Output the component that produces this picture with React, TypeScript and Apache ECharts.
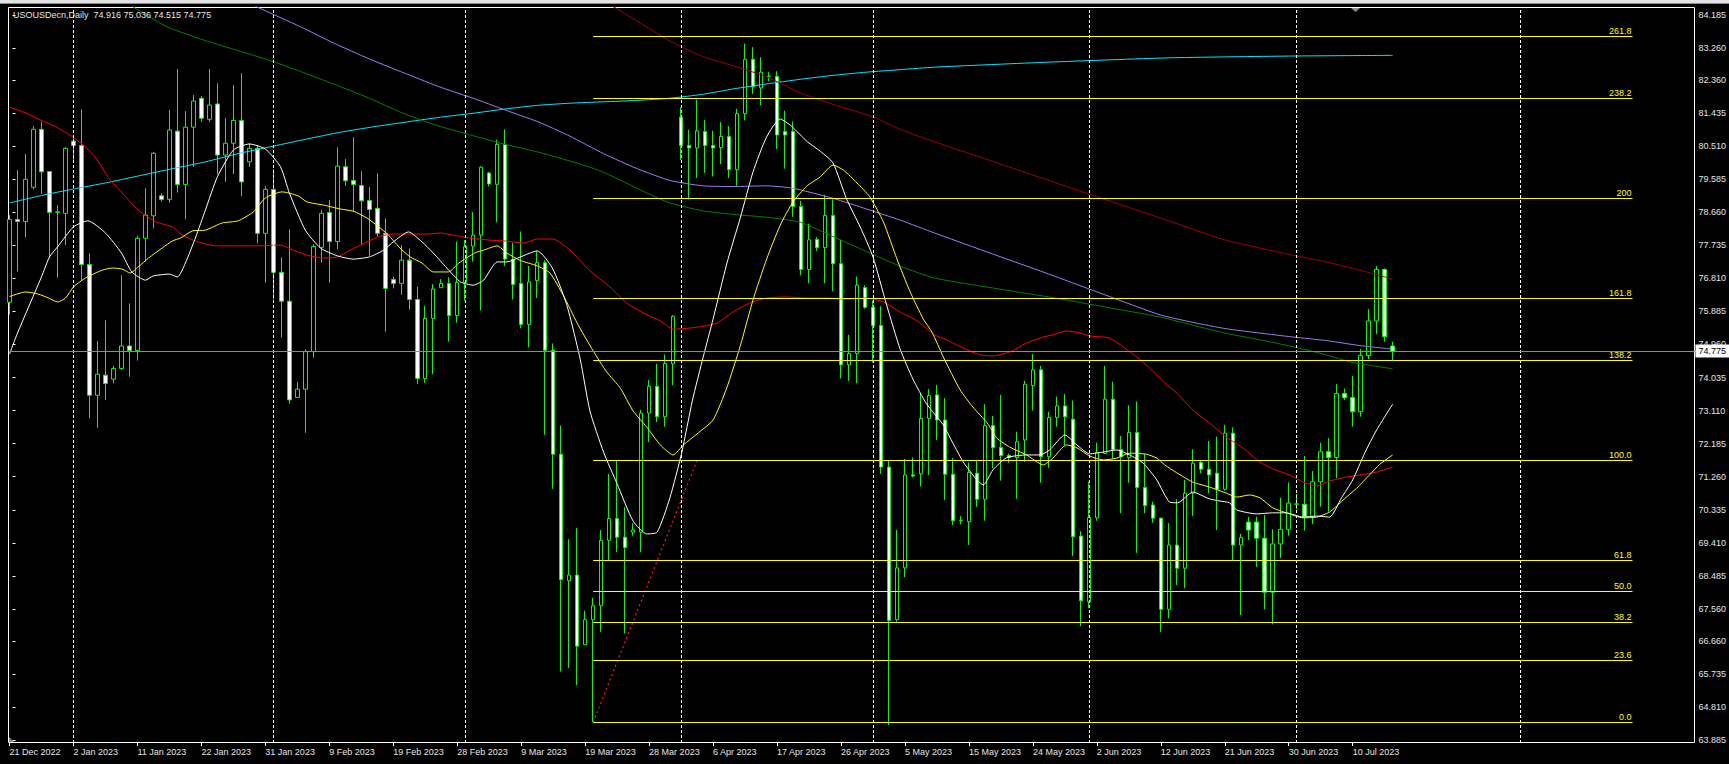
import React, { useEffect, useRef } from 'react';
import * as echarts from 'echarts';

// ---------------- DATA ----------------
const titleText = 'USOUSDecn,Daily  74.916 75.036 74.515 74.775';
const lastPrice = 74.775;

const xTickLabels = ['21 Dec 2022', '2 Jan 2023', '11 Jan 2023', '22 Jan 2023', '31 Jan 2023', '9 Feb 2023', '19 Feb 2023', '28 Feb 2023', '9 Mar 2023', '19 Mar 2023', '28 Mar 2023', '6 Apr 2023', '17 Apr 2023', '26 Apr 2023', '5 May 2023', '15 May 2023', '24 May 2023', '2 Jun 2023', '12 Jun 2023', '21 Jun 2023', '30 Jun 2023', '10 Jul 2023'];
const barsPerTick = 8;
const totalSlots = 212;

const yTickValues = [84.185, 83.26, 82.36, 81.435, 80.51, 79.585, 78.66, 77.735, 76.81, 75.885, 74.96, 74.035, 73.11, 72.185, 71.26, 70.335, 69.41, 68.485, 67.56, 66.66, 65.735, 64.81, 63.885];
const yMin = 63.81;
const yMax = 84.403;

const opens = [76.14, 78.46, 78.40, 79.36, 80.98, 79.80, 78.66, 78.63, 80.65, 80.53, 77.20, 73.54, 74.10, 73.99, 74.29, 74.92, 74.79, 77.93, 78.56, 79.12, 79.02, 80.93, 79.44, 81.04, 81.85, 81.26, 81.69, 80.26, 80.59, 81.23, 80.07, 80.45, 78.07, 79.30, 76.98, 76.17, 73.48, 73.71, 74.76, 77.68, 78.65, 77.84, 79.93, 79.55, 79.41, 78.99, 78.77, 78.07, 76.78, 76.67, 77.32, 76.22, 74.01, 75.69, 76.55, 76.67, 75.77, 76.70, 77.71, 78.02, 79.76, 79.44, 80.56, 77.35, 76.67, 75.52, 76.75, 77.25, 74.80, 71.89, 68.35, 68.51, 66.56, 67.26, 67.65, 69.48, 70.09, 69.57, 69.71, 69.71, 73.04, 73.79, 72.94, 74.42, 81.32, 80.53, 80.46, 80.92, 80.53, 80.47, 80.78, 79.85, 81.42, 82.94, 82.14, 82.46, 82.46, 80.92, 80.92, 78.82, 77.06, 77.90, 77.67, 78.57, 77.22, 74.39, 74.71, 76.55, 76.00, 75.49, 71.53, 67.26, 68.71, 71.31, 71.34, 72.89, 73.55, 72.85, 71.33, 70.03, 70.00, 71.36, 70.63, 72.69, 72.08, 71.86, 71.80, 72.29, 73.81, 74.25, 71.82, 72.92, 73.24, 72.87, 69.60, 67.76, 70.11, 71.91, 73.43, 72.02, 71.80, 72.50, 70.96, 70.47, 70.10, 67.55, 69.35, 68.70, 70.80, 71.66, 71.47, 71.36, 70.91, 72.48, 69.35, 69.99, 69.99, 69.54, 68.03, 69.38, 69.79, 70.49, 70.49, 70.14, 71.12, 71.96, 71.80, 73.59, 73.48, 73.08, 74.65, 75.62, 77.06, 74.916];
const highs = [78.58, 79.84, 80.29, 81.07, 81.19, 79.81, 78.86, 80.48, 80.73, 81.54, 77.51, 75.06, 75.64, 74.36, 76.90, 76.11, 78.00, 79.33, 80.35, 79.19, 81.52, 82.67, 81.49, 81.94, 81.91, 82.67, 82.27, 81.29, 82.22, 82.55, 80.59, 80.54, 79.39, 79.86, 77.40, 78.18, 73.91, 74.83, 77.77, 78.72, 79.00, 80.48, 80.15, 80.76, 79.81, 79.37, 79.75, 78.49, 76.86, 77.74, 77.65, 76.58, 76.04, 76.65, 76.79, 76.84, 77.84, 77.88, 78.67, 79.95, 79.79, 80.69, 80.98, 77.80, 78.12, 77.16, 77.58, 77.32, 74.99, 72.69, 69.51, 69.83, 67.51, 67.87, 69.77, 71.34, 71.72, 70.41, 69.96, 73.13, 73.97, 74.42, 74.68, 75.78, 81.59, 80.97, 81.81, 81.24, 80.94, 81.18, 81.07, 81.55, 83.38, 83.28, 83.00, 82.58, 82.61, 81.50, 81.20, 78.98, 78.34, 77.96, 79.15, 79.02, 77.89, 75.23, 76.86, 76.62, 76.19, 76.03, 71.72, 69.77, 71.76, 71.80, 73.58, 73.71, 73.83, 73.46, 71.78, 70.16, 71.66, 71.73, 73.29, 72.96, 73.55, 71.91, 72.52, 73.94, 74.69, 74.36, 73.08, 73.50, 73.58, 73.39, 69.74, 71.12, 72.21, 74.36, 73.92, 72.40, 73.26, 73.36, 71.90, 70.56, 70.12, 69.96, 70.63, 71.17, 72.03, 71.73, 72.26, 72.38, 72.71, 72.64, 69.66, 70.14, 70.14, 70.19, 69.79, 70.67, 71.10, 70.78, 71.84, 71.42, 72.21, 72.34, 73.85, 73.73, 74.08, 74.83, 75.95, 77.16, 77.09, 75.036];
const lows = [75.79, 77.00, 77.96, 79.30, 79.17, 77.37, 76.83, 77.74, 80.12, 76.77, 72.90, 72.63, 73.41, 73.87, 74.25, 74.06, 74.51, 77.28, 78.21, 78.96, 78.93, 79.21, 78.46, 79.93, 81.19, 81.19, 79.72, 79.51, 79.73, 79.11, 79.93, 77.79, 76.69, 76.22, 75.15, 73.31, 73.48, 72.49, 74.59, 77.25, 76.69, 77.62, 79.40, 78.68, 77.74, 77.44, 77.99, 75.32, 76.53, 76.35, 75.93, 73.85, 73.89, 74.13, 76.55, 75.04, 75.57, 76.19, 77.28, 75.91, 79.38, 78.38, 77.16, 76.22, 75.42, 74.88, 76.26, 72.43, 70.92, 65.81, 65.91, 65.43, 66.55, 64.39, 66.92, 68.93, 69.15, 66.88, 69.61, 69.15, 72.23, 72.79, 72.66, 73.82, 80.12, 79.02, 79.62, 79.76, 79.66, 80.01, 79.62, 79.40, 81.23, 81.97, 81.65, 82.33, 80.43, 79.88, 78.53, 76.90, 76.67, 77.58, 76.67, 76.45, 74.01, 73.94, 73.88, 75.96, 74.46, 71.34, 64.31, 67.20, 68.45, 71.24, 70.99, 71.31, 72.29, 70.61, 69.91, 69.93, 69.35, 70.42, 70.03, 71.50, 71.15, 71.65, 70.64, 71.68, 73.11, 71.09, 71.51, 72.66, 72.15, 69.04, 67.08, 67.58, 70.03, 71.91, 71.77, 70.24, 71.09, 69.13, 70.24, 69.97, 66.92, 67.30, 68.23, 68.14, 70.16, 71.36, 70.80, 69.77, 70.87, 68.93, 67.39, 69.49, 68.74, 67.55, 67.13, 68.99, 69.61, 70.35, 69.75, 69.94, 70.42, 70.28, 71.22, 73.41, 72.66, 72.94, 74.55, 75.25, 75.04, 74.515];
const closes = [78.46, 78.40, 79.58, 80.98, 79.79, 78.66, 78.67, 80.45, 80.53, 77.20, 73.54, 74.13, 73.87, 74.29, 74.92, 74.79, 77.93, 78.58, 80.31, 79.02, 80.96, 79.44, 81.04, 81.77, 81.29, 81.66, 80.26, 80.59, 81.23, 79.51, 80.45, 78.07, 79.30, 76.98, 76.17, 73.41, 73.71, 74.76, 77.70, 78.63, 77.84, 79.95, 79.54, 79.44, 78.98, 78.74, 78.07, 76.53, 76.67, 77.32, 76.22, 74.01, 75.69, 76.51, 76.67, 75.77, 76.70, 77.70, 78.02, 79.92, 79.45, 80.56, 77.35, 76.64, 75.52, 76.71, 77.25, 74.80, 71.89, 68.38, 68.51, 66.52, 67.26, 67.65, 69.48, 70.09, 69.57, 69.28, 69.77, 73.04, 73.79, 72.94, 74.43, 75.75, 80.53, 80.46, 80.94, 80.53, 80.46, 80.78, 79.85, 81.42, 82.94, 82.17, 82.58, 82.47, 80.82, 80.82, 78.82, 77.06, 77.89, 77.67, 78.57, 77.22, 74.39, 74.71, 76.62, 76.00, 75.49, 71.53, 67.24, 68.71, 71.31, 71.28, 72.89, 73.53, 72.85, 71.33, 70.03, 70.04, 71.38, 70.63, 72.69, 72.08, 71.85, 71.80, 72.24, 73.85, 74.25, 71.82, 72.92, 73.24, 72.94, 69.58, 67.79, 70.12, 71.94, 73.43, 72.02, 71.82, 72.50, 70.96, 70.45, 70.10, 67.55, 69.35, 68.70, 70.80, 71.64, 71.47, 71.31, 70.91, 72.48, 69.35, 69.56, 69.77, 69.54, 68.03, 69.38, 69.79, 70.52, 70.50, 70.14, 71.12, 71.96, 71.80, 73.59, 73.47, 73.08, 74.65, 75.62, 77.06, 75.18, 74.775];

// moving averages as [bar index, price]
const maWhite = [[0, 74.69], [1, 75.28], [4, 76.85], [5, 77.41], [6, 77.69], [8, 78.25], [9.8, 78.42], [12, 78.08], [14, 77.52], [15.3, 76.99], [17, 76.76], [18, 76.88], [20, 76.93], [21, 76.85], [22, 77.24], [23.3, 77.97], [24.5, 78.72], [26, 79.65], [28, 80.40], [30, 80.57], [32, 80.43], [33.9, 79.93], [35, 79.20], [37, 78.16], [38.9, 77.66], [41, 77.44], [43, 77.35], [45, 77.41], [46.8, 77.60], [48, 77.83], [49.9, 78.11], [51.6, 77.83], [53, 77.52], [54.7, 77.10], [56.4, 76.71], [58, 76.62], [59.3, 76.76], [61, 77.27], [62.2, 77.27], [63.9, 77.41], [66, 77.58], [67.9, 77.10], [69.7, 76.07], [71.4, 74.53], [72.6, 73.10], [74.3, 71.95], [76, 71.06], [78, 70.02], [79.7, 69.66], [81, 69.71], [82.6, 70.67], [84.1, 71.95], [85.4, 73.38], [86.8, 74.64], [88, 75.67], [89.7, 77.21], [91.4, 78.50], [93, 79.79], [94.7, 80.77], [96.4, 81.27], [97.8, 81.07], [99.8, 80.63], [101.4, 80.37], [103, 80.04], [104.7, 79.03], [106.4, 78.25], [108, 77.41], [109.7, 76.07], [111.4, 74.83], [113, 73.99], [114.7, 73.30], [116.8, 72.71], [117.6, 72.37], [119.3, 71.67], [121, 71.17], [121.8, 71.03], [123, 71.45], [124.7, 71.79], [127.2, 71.87], [128.9, 71.87], [130.1, 72.01], [132, 72.43], [133.5, 72.15], [135.1, 71.90], [136.8, 71.95], [138.5, 72.01], [140.1, 71.87], [141.8, 71.64], [143.5, 71.17], [145.1, 70.55], [146.1, 70.53], [148, 70.83], [150.1, 70.64], [151.4, 70.58], [152.6, 70.53], [153.5, 70.33], [156, 70.22], [158, 70.25], [159.7, 70.25], [161.8, 70.13], [163.5, 70.16], [165.1, 70.13], [166.6, 70.67], [168, 71.17], [169.5, 71.92], [171, 72.57], [173, 73.29]];
const maYellow = [[0, 76.30], [2, 76.43], [3.6, 76.37], [4.9, 76.26], [6, 76.15], [7, 76.26], [8, 76.57], [9.5, 76.82], [11.6, 77.04], [12.9, 77.10], [14.1, 77.07], [15.1, 76.96], [16.1, 77.13], [17.4, 77.38], [19.1, 77.66], [20.4, 77.86], [21.4, 77.94], [22.9, 78.14], [24.5, 78.16], [26.6, 78.36], [28.6, 78.42], [30.5, 78.67], [32, 79.06], [34.1, 79.23], [36.1, 79.12], [37.2, 78.95], [39.3, 78.86], [41.4, 78.75], [43, 78.69], [44.7, 78.50], [46.2, 78.25], [47.4, 78.02], [48.7, 77.69], [50.1, 77.41], [51.6, 77.24], [53, 76.99], [54.9, 76.99], [56.2, 77.24], [58.2, 77.52], [59.3, 77.60], [61, 77.72], [62.2, 77.52], [63.9, 77.31], [66, 77.16], [67.6, 76.96], [69.3, 76.32], [71, 75.56], [73, 74.78], [74.7, 74.19], [76.4, 73.74], [78, 73.10], [79.7, 72.65], [81.4, 72.15], [83, 71.87], [84.3, 72.15], [86, 72.46], [88, 72.85], [89.7, 73.74], [91.4, 74.92], [93, 76.21], [94.7, 77.35], [96.4, 78.30], [98, 78.95], [99.7, 79.39], [101.4, 79.65], [103, 79.98], [104.3, 79.84], [106, 79.48], [107.6, 79.09], [109.3, 78.39], [111, 77.35], [112.6, 76.46], [114.3, 75.67], [115.4, 75.30], [116.8, 74.61], [118.9, 73.69], [120.5, 73.21], [122.3, 72.76], [123.5, 72.34], [125.1, 72.09], [127.2, 71.87], [129.3, 71.59], [130.5, 71.78], [132.2, 72.15], [133.5, 72.07], [135.1, 71.84], [136.8, 71.73], [138.5, 71.78], [140.1, 71.92], [142.2, 71.89], [143.5, 71.78], [144.5, 71.59], [146, 71.37], [148, 71.11], [150.1, 70.97], [152.2, 70.80], [153.5, 70.69], [155.1, 70.75], [156.4, 70.67], [158, 70.39], [159.7, 70.25], [161.8, 70.11], [163.5, 70.13], [165.1, 70.27], [166.8, 70.61], [168.5, 70.94], [170.1, 71.31], [171.4, 71.61], [173, 71.87]];
const maRed = [[0, 81.60], [2, 81.44], [3.6, 81.27], [5.8, 81.05], [7.9, 80.77], [9.5, 80.49], [10.8, 80.18], [12.4, 79.62], [14.1, 79.20], [16.1, 78.72], [18.3, 78.39], [20.4, 78.25], [21.6, 78.02], [23.6, 77.83], [25.8, 77.72], [28.6, 77.72], [31, 77.72], [33.9, 77.74], [35.5, 77.60], [37.2, 77.46], [39.3, 77.38], [41, 77.41], [42.6, 77.60], [44.7, 77.83], [46.4, 77.99], [48, 78.05], [50.5, 78.05], [52.2, 78.05], [53.9, 78.08], [55.5, 78.02], [57.6, 77.94], [60.1, 77.88], [61.8, 77.86], [64.3, 77.80], [66, 77.91], [68, 77.91], [70.1, 77.60], [72.6, 77.02], [75.1, 76.57], [77.2, 76.12], [79.3, 75.84], [81.4, 75.62], [83, 75.39], [85.1, 75.42], [87, 75.48], [88.5, 75.56], [90.5, 75.87], [92.6, 76.12], [94.7, 76.26], [97.2, 76.29], [99.7, 76.26], [102.2, 76.26], [104.7, 76.23], [107.2, 76.26], [109.3, 76.15], [111.4, 75.87], [113.5, 75.62], [115.7, 75.23], [117.2, 75.09], [119.3, 74.86], [121.4, 74.67], [123, 74.64], [125.1, 74.75], [127.2, 75.00], [129.3, 75.17], [130.5, 75.23], [132.2, 75.34], [133.9, 75.28], [135.1, 75.20], [137.6, 75.14], [139.3, 74.89], [141, 74.61], [142.6, 74.30], [144.5, 73.88], [146, 73.60], [148, 73.13], [150.1, 72.76], [152.2, 72.37], [154.3, 72.06], [156.4, 71.67], [158, 71.48], [160.1, 71.31], [161.8, 71.11], [163.5, 71.00], [165.1, 71.14], [167.2, 71.25], [168.9, 71.31], [171, 71.39], [173, 71.53]];
const maGreen = [[14.2, 84.60], [15.5, 84.40], [19.7, 83.85], [24, 83.50], [28, 83.22], [32.4, 82.92], [36.4, 82.60], [40.5, 82.25], [45, 81.85], [49, 81.45], [53, 81.12], [58, 80.80], [62, 80.56], [66, 80.35], [70, 80.10], [73.5, 79.85], [76.4, 79.56], [79.7, 79.20], [82.6, 78.92], [86.7, 78.70], [90.5, 78.60], [94.7, 78.52], [98.9, 78.38], [103, 77.98], [107.2, 77.56], [111.4, 77.15], [115.7, 76.82], [123, 76.54], [130, 76.29], [137, 76.01], [143.9, 75.73], [148, 75.50], [152.2, 75.27], [156.4, 75.09], [160.5, 74.90], [164.7, 74.67], [168, 74.46], [173, 74.28]];
const maPurple = [[29.2, 84.60], [31, 84.40], [36.4, 83.85], [40.5, 83.40], [45, 82.95], [50, 82.50], [54, 82.15], [58, 81.85], [62, 81.52], [66, 81.20], [70, 80.80], [74.3, 80.30], [78.5, 79.88], [82.6, 79.55], [86.7, 79.40], [90.5, 79.38], [94.7, 79.40], [98, 79.33], [103, 79.05], [107.2, 78.75], [111.4, 78.44], [115.7, 78.08], [123, 77.49], [130, 76.93], [137, 76.35], [143.9, 75.79], [148, 75.58], [152.2, 75.40], [156.4, 75.28], [160.5, 75.17], [164.7, 75.07], [168.9, 74.93], [173, 74.83]];
const maMaroon = [[74.1, 84.60], [75.6, 84.40], [79.3, 83.90], [82.6, 83.45], [86.7, 83.02], [90.5, 82.76], [94.7, 82.45], [98.9, 82.00], [103, 81.68], [108, 81.33], [111.4, 80.98], [115.7, 80.63], [125, 79.93], [135, 79.17], [145, 78.42], [151.8, 77.90], [156.4, 77.66], [160.5, 77.46], [164.7, 77.27], [168.9, 77.04], [173, 76.79]];
const maCyan = [[0, 78.92], [4, 79.13], [8, 79.31], [12, 79.48], [16, 79.67], [20.4, 79.88], [24.5, 80.07], [28.6, 80.30], [33, 80.51], [37.2, 80.71], [41.4, 80.90], [45.5, 81.05], [49.8, 81.19], [53.9, 81.32], [58, 81.43], [62, 81.55], [66, 81.65], [70, 81.71], [74.3, 81.75], [78.5, 81.79], [82.6, 81.85], [86.7, 81.96], [90.5, 82.11], [94.7, 82.25], [98.9, 82.38], [103, 82.49], [107.2, 82.58], [111.4, 82.65], [115.7, 82.72], [130, 82.86], [145, 82.98], [160, 83.03], [173, 83.05]];

// Fibonacci retracement
const fibLabels = ['0.0', '23.6', '38.2', '50.0', '61.8', '100.0', '138.2', '161.8', '200', '238.2', '261.8'];
const fibPrices = [64.388, 66.118, 67.188, 68.054, 68.919, 71.719, 74.519, 76.25, 79.05, 81.85, 83.581];
const fibStartBar = 73;
const fibEndBar = 203;
const trendLine = [[73, 64.388], [86, 71.719]];

// period separators (first bar of each month)
const monthStartBars = [8, 33, 57, 84, 108, 135, 161, 189];

// ---------------- CHART ----------------
const FONT = 'Liberation Sans';
const TXT = '#e6e6e6';

function buildOption() {
  const categories = Array.from({ length: totalSlots }, (_, i) => String(i));
  const candles = opens.map((o, i) => [o, closes[i], lows[i], highs[i]]);
  const tickShown = (index: number) => index % barsPerTick === 0 && index / barsPerTick < xTickLabels.length;

  const maLine = (name: string, data: number[][], color: string, smooth: number) => ({
    name,
    type: 'line',
    xAxisIndex: 1,
    yAxisIndex: 0,
    data,
    showSymbol: false,
    symbol: 'none',
    smooth,
    silent: true,
    clip: true,
    lineStyle: { color, width: 1 },
    z: 3,
  });

  const markData: any[] = [];
  monthStartBars.forEach((b) => {
    markData.push({
      xAxis: b,
      lineStyle: { color: '#ffffff', type: [3, 2], width: 1 },
      label: { show: false },
    });
  });
  fibPrices.forEach((p, i) => {
    markData.push([
      {
        coord: [fibStartBar, p],
        name: fibLabels[i],
        lineStyle: { color: '#ffff00', type: 'solid', width: 1 },
        label: {
          show: true,
          position: 'insideEndTop',
          formatter: '{b}',
          color: '#ffff00',
          fontSize: 9,
          fontFamily: FONT,
          distance: [1, 1],
        },
      },
      { coord: [fibEndBar, p] },
    ]);
  });
  markData.push({
    yAxis: lastPrice,
    lineStyle: { color: '#8c8c8c', type: 'solid', width: 1 },
    label: {
      show: true,
      position: 'end',
      formatter: lastPrice.toFixed(3),
      backgroundColor: '#ffffff',
      color: '#000000',
      fontSize: 9,
      fontFamily: FONT,
      padding: [2, 4, 2, 3],
      distance: -1,
    },
  });

  return {
    animation: false,
    backgroundColor: '#000000',
    textStyle: { fontFamily: FONT },
    title: {
      text: titleText,
      left: 13,
      top: 10,
      padding: 0,
      textStyle: { color: TXT, fontSize: 9, fontWeight: 'normal', fontFamily: FONT },
    },
    grid: { left: 9.5, top: 7, width: 1688, height: 736 },
    xAxis: [
      {
        type: 'category',
        data: categories,
        boundaryGap: false,
        axisLine: { show: false },
        axisTick: { show: true, interval: tickShown, length: 3, lineStyle: { color: '#ffffff' } },
        axisLabel: {
          interval: tickShown,
          formatter: (_v: string, index: number) => xTickLabels[index / barsPerTick] ?? '',
          align: 'left',
          color: TXT,
          fontSize: 9,
          fontFamily: FONT,
          margin: 4,
        },
        splitLine: { show: false },
      },
      { type: 'value', min: 0, max: totalSlots - 1, show: false, splitLine: { show: false } },
    ],
    yAxis: {
      type: 'value',
      position: 'right',
      offset: -3,
      min: yMin,
      max: yMax,
      scale: true,
      axisLine: { show: false },
      axisTick: { show: true, customValues: yTickValues, length: 3, lineStyle: { color: '#ffffff' } },
      axisLabel: {
        customValues: yTickValues,
        formatter: (v: number) => v.toFixed(3),
        color: TXT,
        fontSize: 9,
        fontFamily: FONT,
        margin: 5,
      },
      splitLine: { show: false },
    },
    graphic: [
      { type: 'rect', z: 100, shape: { x: 0, y: 0, width: 1729, height: 3 }, style: { fill: '#e2e2e2' } },
      { type: 'rect', z: 100, shape: { x: 0, y: 3, width: 1729, height: 1 }, style: { fill: '#8a8a8a' } },
      { type: 'rect', z: 1, shape: { x: 8.5, y: 7.5, width: 1686, height: 735 }, style: { fill: 'none', stroke: '#ffffff', lineWidth: 1 } },
      { type: 'polygon', z: 100, shape: { points: [[1351, 8], [1360, 8], [1355.5, 12]] }, style: { fill: '#8c8c8c' } },
      { type: 'polygon', z: 100, shape: { points: [[9, 737], [9, 742], [14, 742]] }, style: { fill: '#8c8c8c' } },
    ],
    series: [
      {
        name: 'price',
        type: 'candlestick',
        xAxisIndex: 0,
        yAxisIndex: 0,
        data: candles,
        barWidth: 4,
        silent: true,
        itemStyle: {
          color: '#000000',
          color0: '#ffffff',
          borderColor: '#00ff00',
          borderColor0: '#00ff00',
          borderColorDoji: '#00ff00',
          borderWidth: 1,
        },
        z: 2,
      },
      maLine('cyan', maCyan, '#00e8ff', 0.2),
      maLine('maroon', maMaroon, '#a00000', 0.2),
      maLine('purple', maPurple, '#9c7cf0', 0.2),
      maLine('green', maGreen, '#008000', 0.2),
      maLine('red', maRed, '#ff0000', 0.2),
      maLine('yellow', maYellow, '#ffff00', 0.2),
      maLine('white', maWhite, '#ffffff', 0.2),
      {
        name: 'fibo',
        type: 'line',
        xAxisIndex: 1,
        yAxisIndex: 0,
        data: trendLine,
        showSymbol: false,
        symbol: 'none',
        silent: true,
        lineStyle: { color: '#ff1a1a', type: [2, 3], width: 1.2 },
        z: 4,
        markLine: {
          silent: true,
          symbol: ['none', 'none'],
          animation: false,
          data: markData,
        },
      },
    ],
  };
}

export default function App() {
  const ref = useRef<HTMLDivElement>(null);
  useEffect(() => {
    if (!ref.current) return;
    const chart = echarts.init(ref.current, null, { renderer: 'svg', width: 1729, height: 764 });
    chart.setOption(buildOption() as any);
    return () => chart.dispose();
  }, []);
  return (
    <div style={{ position: 'fixed', left: 0, top: 0, width: 1729, height: 764, background: '#000' }}>
      <div ref={ref} style={{ width: 1729, height: 764 }} />
    </div>
  );
}
